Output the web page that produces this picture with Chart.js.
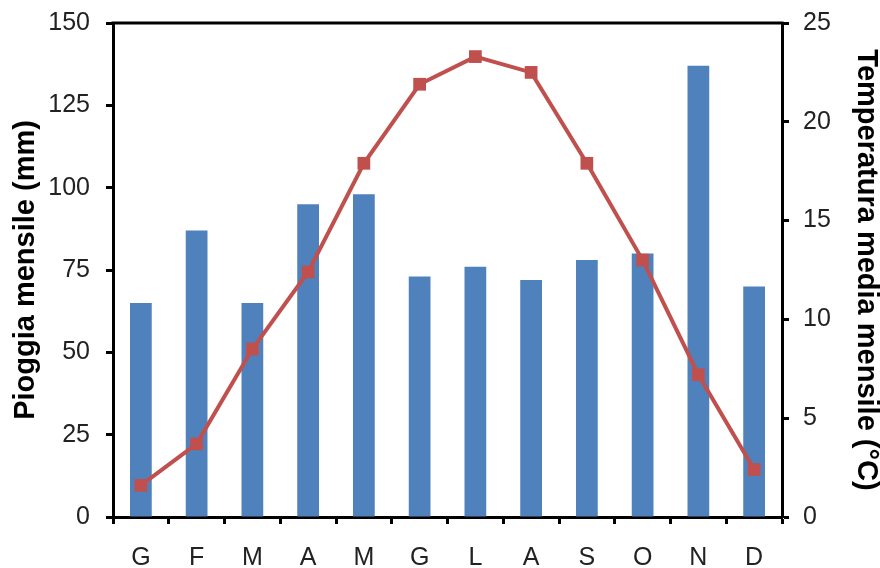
<!DOCTYPE html>
<html>
<head>
<meta charset="utf-8">
<script src="https://cdn.jsdelivr.net/npm/chart.js@4"></script>
<style>
  html, body { margin: 0; padding: 0; background: #fff; }
  #wrap { width: 880px; height: 568px; }
</style>
</head>
<body>
<div id="wrap"><canvas id="chart" width="880" height="568"></canvas></div>
<script>
const months = ['G', 'F', 'M', 'A', 'M', 'G', 'L', 'A', 'S', 'O', 'N', 'D'];
const pioggia = [65, 87, 65, 95, 98, 73, 76, 72, 78, 80, 137, 70];
const temperatura = [1.6, 3.7, 8.5, 12.4, 17.9, 21.9, 23.3, 22.5, 17.9, 13.0, 7.2, 2.4];
const pioggiaTicks = [0, 25, 50, 75, 100, 125, 150];
const tempTicks = [0, 5, 10, 15, 20, 25];

const tickFont = { family: 'Liberation Sans, Arial, sans-serif', size: 25 };
const titleFont = { family: 'Liberation Sans, Arial, sans-serif', size: 29, weight: 'bold', lineHeight: 1 };

// draws the top edge of the plot box
const topBorder = {
  id: 'topBorder',
  afterDraw(chart) {
    const { ctx, chartArea } = chart;
    ctx.save();
    ctx.strokeStyle = '#000';
    ctx.lineWidth = 3;
    ctx.beginPath();
    ctx.moveTo(chartArea.left - 1.5, chartArea.top);
    ctx.lineTo(chartArea.right + 1.5, chartArea.top);
    ctx.stroke();
    ctx.restore();
  }
};

// fixed axis sizes so the plot box sits where it does in the original
function fixWidth(w) {
  return (scale) => {
    scale.width = w;
    scale.paddingTop = 0;
    scale.paddingBottom = 0;
  };
}

new Chart(document.getElementById('chart'), {
  type: 'bar',
  data: {
    labels: months,
    datasets: [{
      label: 'Pioggia mensile (mm)',
      data: pioggia,
      backgroundColor: '#4f81bd',
      categoryPercentage: 1,
      barPercentage: 0.39,
      yAxisID: 'y',
      order: 1
    }, {
      type: 'line',
      label: 'Temperatura media mensile (°C)',
      data: temperatura,
      borderColor: '#c0504d',
      backgroundColor: '#c0504d',
      borderWidth: 4,
      pointStyle: 'rect',
      pointRadius: 9,
      pointBorderWidth: 0,
      yAxisID: 'y1',
      order: 0
    }]
  },
  options: {
    responsive: false,
    animation: false,
    layout: { padding: { top: 23, left: 0, right: 0, bottom: 0 } },
    plugins: {
      legend: { display: false },
      tooltip: { enabled: false }
    },
    scales: {
      x: {
        grid: { offset: true, drawOnChartArea: false, drawTicks: true, tickLength: 7, tickWidth: 3, tickColor: '#000' },
        border: { display: true, color: '#000', width: 3 },
        ticks: { font: tickFont, color: '#222', padding: 19, maxRotation: 0 },
        afterFit: (scale) => { scale.height = 51; }
      },
      y: {
        position: 'left',
        min: 0,
        max: 150,
        afterBuildTicks: (scale) => { scale.ticks = pioggiaTicks.map(v => ({ value: v })); },
        grid: { drawOnChartArea: false, drawTicks: true, tickLength: 7, tickWidth: 3, tickColor: '#000' },
        border: { display: true, color: '#000', width: 3 },
        ticks: { font: tickFont, color: '#222', padding: 16 },
        title: { display: true, text: 'Pioggia mensile (mm)', font: titleFont, color: '#000', padding: { top: 11, bottom: 0 } },
        afterFit: fixWidth(113)
      },
      y1: {
        position: 'right',
        min: 0,
        max: 25,
        afterBuildTicks: (scale) => { scale.ticks = tempTicks.map(v => ({ value: v })); },
        grid: { drawOnChartArea: false, drawTicks: true, tickLength: 7, tickWidth: 3, tickColor: '#000' },
        border: { display: true, color: '#000', width: 3 },
        ticks: { font: tickFont, color: '#222', padding: 14 },
        title: { display: true, text: 'Temperatura media mensile (°C)', font: titleFont, color: '#000', padding: { top: 0, bottom: 0 } },
        afterFit: fixWidth(98)
      }
    }
  },
  plugins: [topBorder]
});
</script>
</body>
</html>
